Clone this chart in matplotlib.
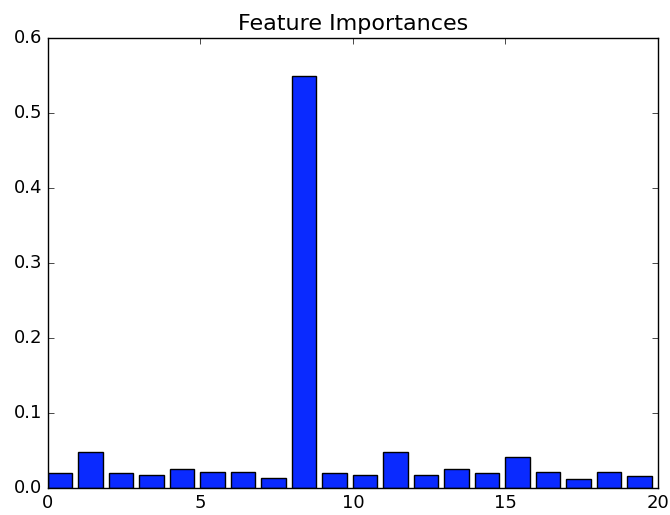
import matplotlib
matplotlib.use("Agg")
import matplotlib.pyplot as plt
import numpy as np

plt.style.use("classic")
plt.rcParams["xtick.labelsize"] = 13
plt.rcParams["ytick.labelsize"] = 13

importances = [0.0205, 0.048, 0.0196, 0.0178, 0.025, 0.022, 0.022, 0.0133, 0.55, 0.0205,
               0.0178, 0.048, 0.0178, 0.025, 0.0196, 0.041, 0.022, 0.0124, 0.022, 0.016]
features = np.arange(len(importances))

fig = plt.figure(figsize=(6.7, 5.15), dpi=100)
ax = fig.add_axes([0.0716, 0.0524, 0.9104, 0.8736])
ax.bar(features, importances, width=0.8, align="edge", color="#0a2aff", edgecolor="black")
ax.set_title("Feature Importances", fontsize=16, pad=6)
ax.set_xlim(0, 20)
ax.set_ylim(0, 0.6)

fig.savefig("out.png", dpi=100)
